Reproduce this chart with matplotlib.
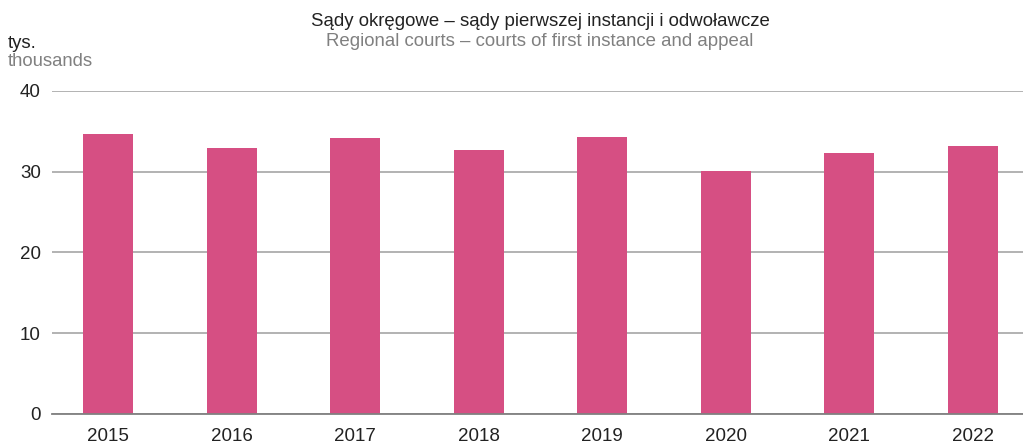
import matplotlib.pyplot as plt

years = ['2015', '2016', '2017', '2018', '2019', '2020', '2021', '2022']
cases = [34.65, 32.9, 34.15, 32.65, 34.3, 30.05, 32.3, 33.15]
yticks = [0, 10, 20, 30, 40]

plt.rcParams['font.family'] = ['Liberation Sans', 'DejaVu Sans']

fig = plt.figure(figsize=(10.23, 4.42), dpi=100)
ax = fig.add_axes([52 / 1023, 28 / 442, 971 / 1023, 323.3 / 442])

x = range(len(years))
ax.bar(x, cases, width=0.405, color='#d64f83', zorder=3)

ax.set_xlim(-0.453, 7.405)
ax.set_ylim(0, 40)
ax.set_yticks(yticks)
ax.set_xticks(list(x))
ax.set_xticklabels(years)
ax.yaxis.grid(True, color='#a6a6a6', linewidth=1.2, zorder=0)
ax.tick_params(axis='both', length=0, labelsize=13.5, colors='#222222')
ax.tick_params(axis='y', pad=8)
ax.tick_params(axis='x', pad=10)
for s in ['top', 'right', 'left']:
    ax.spines[s].set_visible(False)
ax.spines['bottom'].set_color('#808080')
ax.spines['bottom'].set_linewidth(1.3)
ax.spines['bottom'].set_zorder(4)

fig.text(540 / 1023, 1 - 21 / 442, 'Sądy okręgowe – sądy pierwszej instancji i odwoławcze',
         ha='center', va='center', fontsize=13.4, color='#222222')
fig.text(540 / 1023, 1 - 41 / 442, 'Regional courts – courts of first instance and appeal',
         ha='center', va='center', fontsize=13.4, color='#808080')
fig.text(8 / 1023, 1 - 44 / 442, 'tys.', ha='left', va='center', fontsize=13.3, color='#222222')
fig.text(8 / 1023, 1 - 61 / 442, 'thousands', ha='left', va='center', fontsize=13.3, color='#808080')

plt.savefig('out.png', dpi=100)
